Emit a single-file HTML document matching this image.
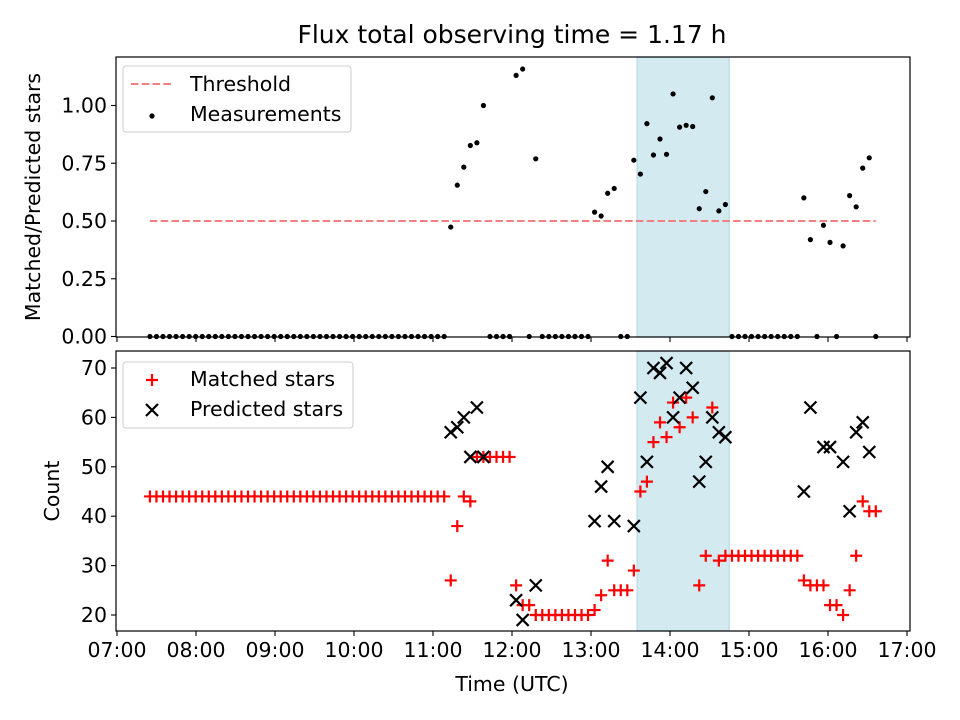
<!DOCTYPE html>
<html><head><meta charset="utf-8"><style>
html,body{margin:0;padding:0;background:#fff;}
svg{display:block;font-family:"DejaVu Sans","Liberation Sans",sans-serif;}
</style></head><body>
<svg id="chart" width="960" height="720" viewBox="0 0 960 720" xmlns="http://www.w3.org/2000/svg"></svg>
<script>
const startTime = "07:25";
const cadenceSeconds = 298;
const matched = [44,44,44,44,44,44,44,44,44,44,44,44,44,44,44,44,44,44,44,44,44,44,44,44,44,44,44,44,44,44,44,44,44,44,44,44,44,44,44,44,44,44,44,44,44,44,
27,38,44,43,52,52,52,52,52,52,26,22,22,20,20,20,20,20,20,20,20,20,
21,24,31,25,25,25,29,45,47,55,59,56,63,58,64,60,26,32,62,31,
32,32,32,32,32,32,32,32,32,32,32,32,
27,26,26,26,22,22,20,25,32,43,41,41];
const predicted = [null,null,null,null,null,null,null,null,null,null,null,null,null,null,null,null,null,null,null,null,null,null,null,null,null,null,null,null,null,null,null,null,null,null,null,null,null,null,null,null,null,null,null,null,null,null,
57,58,60,52,62,52,null,null,null,null,23,19,null,26,null,null,null,null,null,null,null,null,
39,46,50,39,null,null,38,64,51,70,69,71,60,64,70,66,47,51,60,57,
56,null,null,null,null,null,null,null,null,null,null,null,
45,62,null,54,54,null,51,41,57,59,53,null];
const xTicks = ["07:00","08:00","09:00","10:00","11:00","12:00","13:00","14:00","15:00","16:00","17:00"];
const topTicks = [0,0.25,0.5,0.75,1.0];
const botTicks = [20,30,40,50,60,70];
const threshold = 0.5;
const shadeStart = "13:35", shadeEnd = "14:45";

const NS="http://www.w3.org/2000/svg";
const svg=document.getElementById('chart');
function mk(tag,attrs,parent){const e=document.createElementNS(NS,tag);for(const k in attrs)e.setAttribute(k,attrs[k]);(parent||svg).appendChild(e);return e;}
const L=116,R=910,FS=20.5;
function mins(t){const p=t.split(':');return (+p[0])*60+(+p[1]);}
const xm=m=>117+(m-420)*79/60;
const x=t=>xm(mins(t));
const tmin=i=>mins(startTime)+i*cadenceSeconds/60;
const yTop=v=>336.5-v*231;
const yBot=v=>615-(v-20)*4.94;
const ratio=matched.map((m,i)=>predicted[i]?m/predicted[i]:0);

let t=mk('text',{x:512,y:43,'font-size':25,'text-anchor':'middle',fill:'#000'});


t.textContent='Flux total observing time = 1.17 h';

function panel(top,bottom,name){
  const g=mk('g',{});
  
  
  const s=mk('rect',{x:x(shadeStart),y:top,width:x(shadeEnd)-x(shadeStart),height:bottom-top,fill:'#d4eaf1',stroke:'#b8dbe6','stroke-width':1.2},g);
  
  
  return g;
}
function frame(g,top,bottom,labels){
  mk('rect',{x:L,y:top,width:R-L,height:bottom-top,fill:'none',stroke:'#000','stroke-width':1.2},g);
  xTicks.forEach(tk=>{
    const xx=x(tk);
    mk('line',{x1:xx,x2:xx,y1:bottom,y2:bottom+5,stroke:'#000','stroke-width':1.1},g);
    if(labels){
      const tt=mk('text',{x:xx,y:bottom+26,'font-size':FS,'text-anchor':'middle'},g);
      
      
      tt.textContent=tk;
    }
  });
}
const gT=panel(57,337,'ratio-panel');
const thr=mk('line',{x1:xm(tmin(0)),x2:xm(tmin(matched.length-1)),y1:yTop(threshold),y2:yTop(threshold),stroke:'#f28080','stroke-width':2,'stroke-dasharray':'7.5,3.3'},gT);


ratio.forEach((v,i)=>{
  const c=mk('circle',{cx:xm(tmin(i)),cy:yTop(v),r:2.6,fill:'#000'},gT);
  
  
});
frame(gT,57,337,false);
topTicks.forEach(v=>{
  const yy=yTop(v);
  mk('line',{x1:L-5,x2:L,y1:yy,y2:yy,stroke:'#000','stroke-width':1.1},gT);
  const tt=mk('text',{x:L-9,y:yy+7,'font-size':FS,'text-anchor':'end'},gT);
  
  
  tt.textContent=v.toFixed(2);
});
let yl=mk('text',{transform:'translate(40,197) rotate(-90)','font-size':FS,'text-anchor':'middle'});


yl.textContent='Matched/Predicted stars';

const lg=mk('g',{});


mk('rect',{x:123,y:66,width:228,height:66,rx:3,fill:'#fff','fill-opacity':0.8,stroke:'#ccc'},lg);
mk('line',{x1:131,x2:173,y1:84,y2:84,stroke:'#f28080','stroke-width':2,'stroke-dasharray':'7.5,3.3'},lg);
let lt=mk('text',{x:190,y:91,'font-size':FS},lg);lt.textContent='Threshold';


mk('circle',{cx:152,cy:116,r:2.6,fill:'#000'},lg);
lt=mk('text',{x:190,y:121,'font-size':FS},lg);lt.textContent='Measurements';



const gB=panel(351,631,'count-panel');
function plus(cx,cy,g,col){return mk('path',{d:`M${cx-6} ${cy}H${cx+6}M${cx} ${cy-6}V${cy+6}`,stroke:col,'stroke-width':2.2,fill:'none'},g);}
function cross(cx,cy,g){return mk('path',{d:`M${cx-6} ${cy-6}L${cx+6} ${cy+6}M${cx-6} ${cy+6}L${cx+6} ${cy-6}`,stroke:'#000','stroke-width':2.2,fill:'none'},g);}
matched.forEach((v,i)=>{
  const p=plus(xm(tmin(i)),yBot(v),gB,'#ff0000');
  
  
});
predicted.forEach((v,i)=>{
  if(v==null)return;
  const p=cross(xm(tmin(i)),yBot(v),gB);
  
  
});
frame(gB,351,631,true);
botTicks.forEach(v=>{
  const yy=yBot(v);
  mk('line',{x1:L-5,x2:L,y1:yy,y2:yy,stroke:'#000','stroke-width':1.1},gB);
  const tt=mk('text',{x:L-9,y:yy+7,'font-size':FS,'text-anchor':'end'},gB);
  
  
  tt.textContent=v;
});
yl=mk('text',{transform:'translate(59,491) rotate(-90)','font-size':FS,'text-anchor':'middle'});


yl.textContent='Count';
let xl=mk('text',{x:512,y:691,'font-size':FS,'text-anchor':'middle'});


xl.textContent='Time (UTC)';

const lg2=mk('g',{});


mk('rect',{x:123,y:362,width:230,height:66,rx:3,fill:'#fff','fill-opacity':0.8,stroke:'#ccc'},lg2);
plus(152,380,lg2,'#ff0000');
lt=mk('text',{x:190,y:386,'font-size':FS},lg2);lt.textContent='Matched stars';


cross(152,410,lg2);
lt=mk('text',{x:190,y:416,'font-size':FS},lg2);lt.textContent='Predicted stars';


</script>
</body></html>
